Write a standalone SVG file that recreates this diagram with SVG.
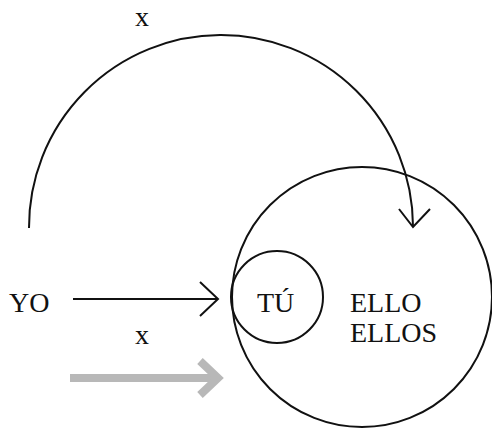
<svg xmlns="http://www.w3.org/2000/svg" width="492" height="428" viewBox="0 0 492 428">
<style>
.t{font-family:"Liberation Serif","Times New Roman",serif;font-size:28px;fill:#111}
.ln{fill:none;stroke:#111;stroke-width:2;stroke-linecap:butt;stroke-linejoin:miter}
.gr{fill:none;stroke:#b8b8b8;stroke-width:8;stroke-linejoin:miter}
</style>
<rect width="492" height="428" fill="#fff"/>
<g id="ellos">
<circle class="ln" cx="362" cy="297" r="130"/>
<text class="t" x="350" y="312">ELLO</text>
<text class="t" x="350" y="342">ELLOS</text>
</g>
<g id="tu">
<circle class="ln" cx="277" cy="297" r="46"/>
<text class="t" x="257" y="312">TÚ</text>
</g>
<g id="yo">
<text class="t" x="9" y="312">YO</text>
</g>
<g id="connectors">
<path class="ln" d="M29,228 A192,192 0 0 1 413,226"/>
<path class="ln" d="M399,209 L413,227 L430,209"/>
<text class="t" x="135" y="26">x</text>
<path class="ln" d="M73,299 L217,299"/>
<path class="ln" d="M200,282 L218,299 L200,316"/>
<text class="t" x="135" y="344">x</text>
<path class="gr" d="M70,378 L217,378"/>
<path class="gr" d="M200,361 L218,378 L200,395"/>
</g>
</svg>
